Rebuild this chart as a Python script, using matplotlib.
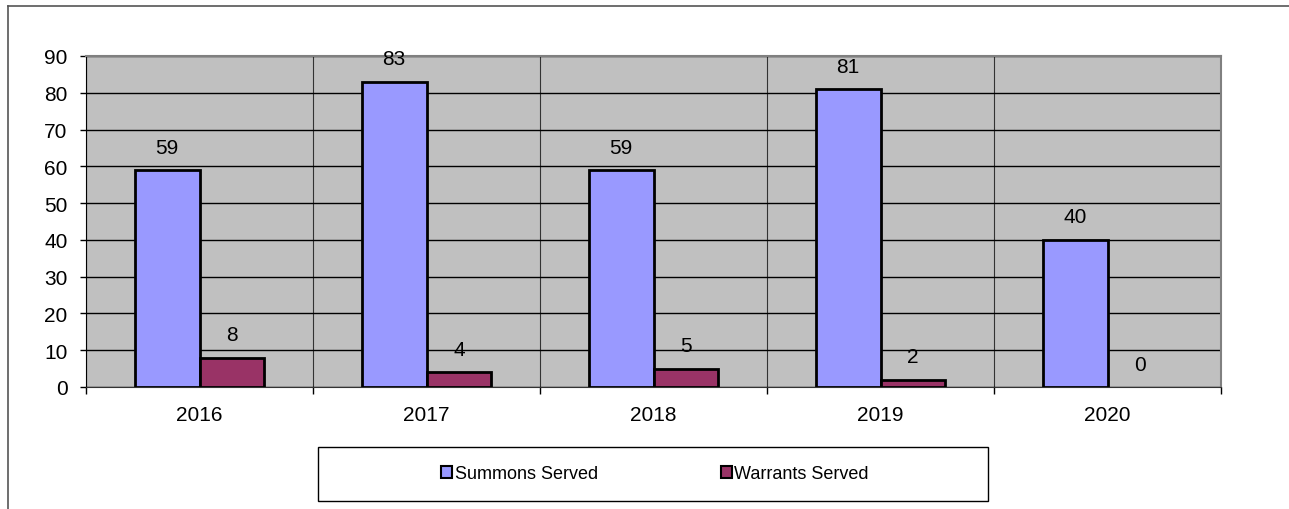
import matplotlib.pyplot as plt
from matplotlib.lines import Line2D
from matplotlib.patches import Patch, Rectangle
import numpy as np

years = ["2016", "2017", "2018", "2019", "2020"]
summons = [59, 83, 59, 81, 40]
warrants = [8, 4, 5, 2, 0]

plt.rcParams['font.family'] = ['Liberation Sans', 'DejaVu Sans']

W, H = 1289, 510
fig = plt.figure(figsize=(W / 100, H / 100), dpi=100)

# plot area, measured in pixels of the reference
left, top, right, bottom = 86, 57, 1221, 388
ax = fig.add_axes([left / W, 1 - bottom / H, (right - left) / W, (bottom - top) / H])
ax.set_facecolor('#C0C0C0')

x = np.arange(len(years))
w = 0.286
ec_s = ['black' if v > 0 else 'none' for v in summons]
ec_w = ['black' if v > 0 else 'none' for v in warrants]
ax.bar(x - w / 2, summons, w, color='#9999FF', edgecolor=ec_s, linewidth=2, zorder=3)
ax.bar(x + w / 2, warrants, w, color='#993366', edgecolor=ec_w, linewidth=2, zorder=3)

for i in range(len(years)):
    ax.annotate(str(summons[i]), (x[i] - w / 2, summons[i]), xytext=(0, 16.5),
                textcoords='offset points', ha='center', va='center', fontsize=15)
    ax.annotate(str(warrants[i]), (x[i] + w / 2, warrants[i]), xytext=(0, 16.5),
                textcoords='offset points', ha='center', va='center', fontsize=15)

ax.set_xlim(-0.5, len(years) - 0.5)
ax.set_ylim(0, 90)
ax.set_yticks(range(0, 91, 10))
ax.set_xticks(x)
ax.set_xticklabels(years)
ax.set_xticks(np.arange(-0.5, len(years), 1), minor=True)
ax.tick_params(axis='x', which='major', length=0, pad=13, labelsize=15)
ax.tick_params(axis='x', which='minor', length=5, width=1, color='black')
ax.tick_params(axis='y', length=4.3, width=1, pad=9, labelsize=15)

ax.grid(axis='y', color='black', linewidth=1, zorder=1)
ax.grid(axis='x', which='minor', color='#333333', linewidth=0.8, zorder=1)
ax.set_axisbelow(True)

for s in ['top', 'right']:
    ax.spines[s].set_color('#808080')
    ax.spines[s].set_linewidth(1.5)
ax.spines['left'].set_color('black')
ax.spines['bottom'].set_color('#333333')

# legend box
fig.add_artist(Rectangle((318 / W, 1 - 502 / H), 670 / W, 54 / H, transform=fig.transFigure,
                         facecolor='white', edgecolor='black', linewidth=1))
handles = [Patch(facecolor='#9999FF', edgecolor='black', linewidth=1.5, label='Summons Served'),
           Patch(facecolor='#993366', edgecolor='black', linewidth=1.5, label='Warrants Served')]
leg = fig.legend(handles=handles, loc='center', bbox_to_anchor=(655 / W, 1 - 475 / H),
                 ncol=2, frameon=False, fontsize=13,
                 handlelength=0.6, handleheight=0.6, handletextpad=0.15,
                 borderpad=0, borderaxespad=0, columnspacing=6.8)

# outer chart border (top and left visible)
fig.add_artist(Line2D([8 / W, 1], [1 - 7 / H, 1 - 7 / H], color='#555555', linewidth=1.2))
fig.add_artist(Line2D([8 / W, 8 / W], [0, 1 - 7 / H], color='#555555', linewidth=1.2))

fig.savefig('out.png', dpi=100)
